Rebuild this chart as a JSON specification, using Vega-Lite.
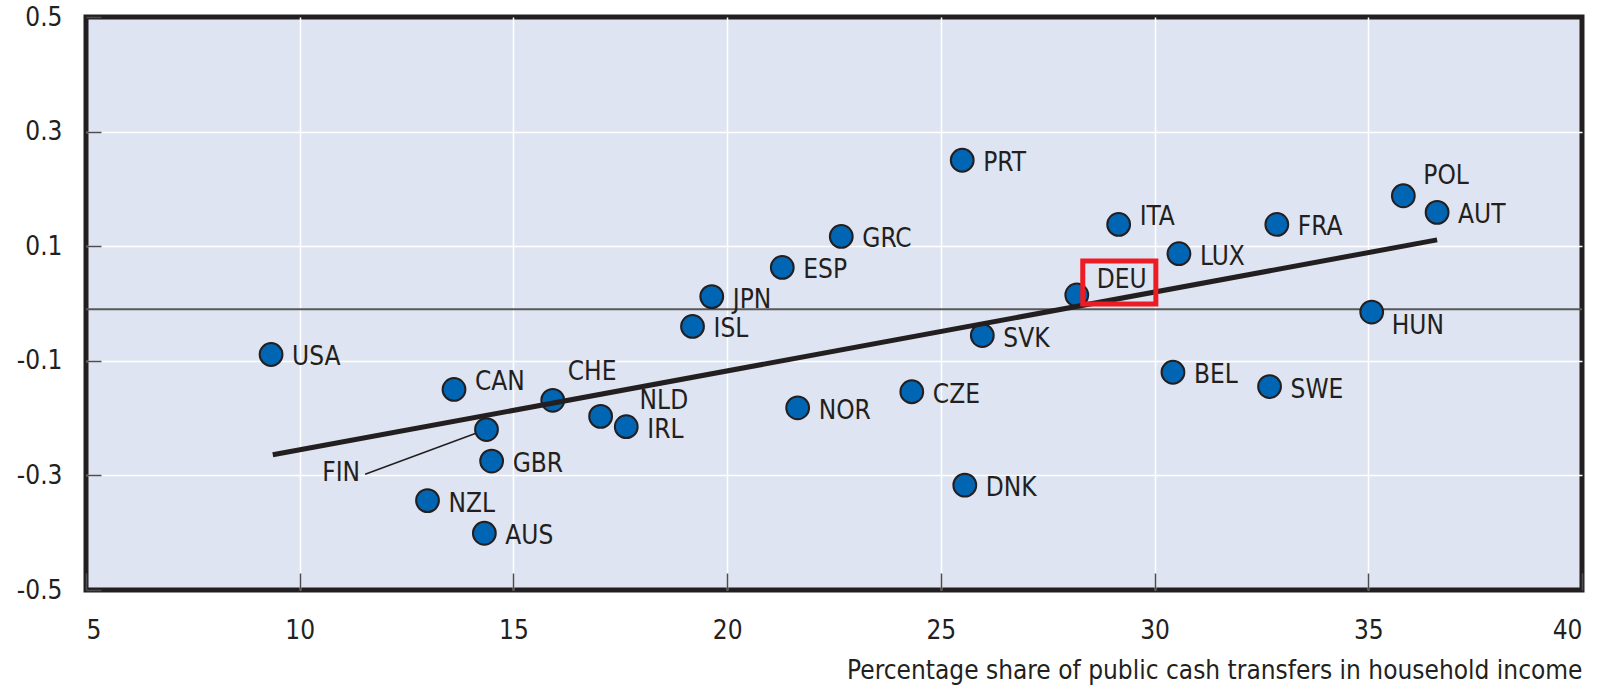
{
  "$schema": "https://vega.github.io/schema/vega-lite/v6.json",
  "width": 1496,
  "height": 573,
  "autosize": {"type": "none"},
  "padding": {"left": 86, "top": 17, "right": 17, "bottom": 95},
  "background": "white",
  "config": {
    "view": {"fill": "#dee4f1", "stroke": "#231f20", "strokeWidth": 5},
    "font": "Liberation Sans Narrow, Arial Narrow, DejaVu Sans Condensed, sans-serif",
    "text": {"font": "Liberation Sans Narrow, Arial Narrow, DejaVu Sans Condensed, sans-serif"}
  },
  "datasets": {
    "pts": [
      {"c": "USA", "x": 9.33, "y": -0.089},
      {"c": "CAN", "x": 13.61, "y": -0.150},
      {"c": "FIN", "x": 14.37, "y": -0.220},
      {"c": "GBR", "x": 14.49, "y": -0.275},
      {"c": "NZL", "x": 12.99, "y": -0.344},
      {"c": "AUS", "x": 14.32, "y": -0.401},
      {"c": "CHE", "x": 15.92, "y": -0.169},
      {"c": "NLD", "x": 17.04, "y": -0.197},
      {"c": "IRL", "x": 17.64, "y": -0.215},
      {"c": "ISL", "x": 19.19, "y": -0.040},
      {"c": "JPN", "x": 19.64, "y": 0.012},
      {"c": "ESP", "x": 21.29, "y": 0.063},
      {"c": "GRC", "x": 22.67, "y": 0.117},
      {"c": "NOR", "x": 21.65, "y": -0.182},
      {"c": "CZE", "x": 24.32, "y": -0.154},
      {"c": "PRT", "x": 25.50, "y": 0.250},
      {"c": "SVK", "x": 25.97, "y": -0.056},
      {"c": "DNK", "x": 25.56, "y": -0.317},
      {"c": "DEU", "x": 28.18, "y": 0.015},
      {"c": "ITA", "x": 29.16, "y": 0.138},
      {"c": "LUX", "x": 30.57, "y": 0.087},
      {"c": "BEL", "x": 30.43, "y": -0.120},
      {"c": "FRA", "x": 32.86, "y": 0.138},
      {"c": "SWE", "x": 32.69, "y": -0.145},
      {"c": "HUN", "x": 35.08, "y": -0.015},
      {"c": "POL", "x": 35.82, "y": 0.188},
      {"c": "AUT", "x": 36.61, "y": 0.159}
    ],
    "fit": [
      {"x": 9.37, "y": -0.264},
      {"x": 36.61, "y": 0.111}
    ],
    "fin": [
      {"c": "FIN", "x": 11.53, "y": -0.298, "x2": 14.36, "y2": -0.220}
    ],
    "zero": [
      {"x": 5, "x2": 40, "y": -0.01}
    ],
    "box": [
      {"x": 28.32, "x2": 30.03, "y": 0.074, "y2": -0.001}
    ]
  },
  "encoding": {
    "x": {
      "field": "x",
      "type": "quantitative",
      "scale": {"domain": [5, 40], "nice": false, "zero": false},
      "axis": {
        "values": [5, 10, 15, 20, 25, 30, 35, 40],
        "domain": false,
        "grid": true,
        "gridColor": {"condition": {"test": "datum.value == 5 || datum.value == 40", "value": "transparent"}, "value": "#ffffff"},
        "gridWidth": 1.5,
        "gridOpacity": 1,
        "tickSize": -17,
        "tickColor": "#4d4d4f",
        "tickWidth": 1.5,
        "labelFlush": true,
        "labelFontSize": 26,
        "labelColor": "#231f20",
        "labelPadding": 44,
        "title": "Percentage share of public cash transfers in household income",
        "titleFontSize": 26,
        "titleFontWeight": "normal",
        "titleColor": "#231f20",
        "titleAnchor": "end",
        "titleAlign": "right",
        "titleBaseline": "alphabetic",
        "titleX": 1496,
        "titleY": 88
      }
    },
    "y": {
      "field": "y",
      "type": "quantitative",
      "scale": {"domain": [-0.5, 0.5], "nice": false, "zero": false},
      "axis": {
        "values": [-0.5, -0.3, -0.1, 0.1, 0.3, 0.5],
        "labelExpr": "(datum.value < 0 ? '-' : '') + format(abs(datum.value), '.1f')",
        "domain": false,
        "grid": true,
        "gridColor": {"condition": {"test": "abs(datum.value) > 0.45", "value": "transparent"}, "value": "#ffffff"},
        "gridWidth": 1.5,
        "gridOpacity": 1,
        "tickSize": -15,
        "tickColor": "#4d4d4f",
        "tickWidth": 1.5,
        "labelFontSize": 26,
        "labelColor": "#231f20",
        "labelPadding": 39,
        "title": null
      }
    }
  },
  "layer": [
    {
      "data": {"name": "zero"},
      "mark": {"type": "rule", "color": "#58585a", "strokeWidth": 2},
      "encoding": {"x2": {"field": "x2"}}
    },
    {
      "data": {"name": "fin"},
      "mark": {"type": "rule", "color": "#231f20", "strokeWidth": 1.5},
      "encoding": {"x2": {"field": "x2"}, "y2": {"field": "y2"}}
    },
    {
      "data": {"name": "pts"},
      "mark": {"type": "circle", "size": 520, "fill": "#0066b3", "stroke": "#231f20", "strokeWidth": 2, "opacity": 1, "fillOpacity": 1}
    },
    {
      "data": {"name": "fit"},
      "mark": {"type": "line", "color": "#231f20", "strokeWidth": 5}
    },
    {
      "data": {"name": "pts"},
      "transform": [{"filter": {"field": "c", "oneOf": ["USA", "GBR", "NZL", "AUS", "IRL", "ISL", "JPN", "ESP", "GRC", "NOR", "CZE", "PRT", "SVK", "DNK", "LUX", "BEL", "FRA", "SWE", "AUT"]}}],
      "mark": {"type": "text", "align": "left", "baseline": "middle", "dx": 21, "dy": 3, "fontSize": 26, "color": "#231f20"},
      "encoding": {"text": {"field": "c"}}
    },
    {
      "data": {"name": "pts"},
      "transform": [{"filter": {"field": "c", "oneOf": ["CAN", "ITA"]}}],
      "mark": {"type": "text", "align": "left", "baseline": "middle", "dx": 21, "dy": -7, "fontSize": 26, "color": "#231f20"},
      "encoding": {"text": {"field": "c"}}
    },
    {
      "data": {"name": "pts"},
      "transform": [{"filter": {"field": "c", "oneOf": ["DEU"]}}],
      "mark": {"type": "text", "align": "left", "baseline": "middle", "dx": 20, "dy": -15, "fontSize": 26, "color": "#231f20"},
      "encoding": {"text": {"field": "c"}}
    },
    {
      "data": {"name": "pts"},
      "transform": [{"filter": {"field": "c", "oneOf": ["POL"]}}],
      "mark": {"type": "text", "align": "left", "baseline": "middle", "dx": 20, "dy": -20, "fontSize": 26, "color": "#231f20"},
      "encoding": {"text": {"field": "c"}}
    },
    {
      "data": {"name": "pts"},
      "transform": [{"filter": {"field": "c", "oneOf": ["NLD"]}}],
      "mark": {"type": "text", "align": "left", "baseline": "middle", "dx": 39, "dy": -15, "fontSize": 26, "color": "#231f20"},
      "encoding": {"text": {"field": "c"}}
    },
    {
      "data": {"name": "pts"},
      "transform": [{"filter": {"field": "c", "oneOf": ["CHE"]}}],
      "mark": {"type": "text", "align": "left", "baseline": "middle", "dx": 15, "dy": -28, "fontSize": 26, "color": "#231f20"},
      "encoding": {"text": {"field": "c"}}
    },
    {
      "data": {"name": "pts"},
      "transform": [{"filter": {"field": "c", "oneOf": ["HUN"]}}],
      "mark": {"type": "text", "align": "left", "baseline": "middle", "dx": 20, "dy": 14, "fontSize": 26, "color": "#231f20"},
      "encoding": {"text": {"field": "c"}}
    },
    {
      "data": {"name": "fin"},
      "mark": {"type": "text", "align": "right", "baseline": "middle", "dx": -5, "dy": -1, "fontSize": 26, "color": "#231f20"},
      "encoding": {"text": {"field": "c"}}
    },
    {
      "data": {"name": "box"},
      "mark": {"type": "rect", "fill": "transparent", "stroke": "#ed1c24", "strokeWidth": 5},
      "encoding": {"x2": {"field": "x2"}, "y2": {"field": "y2"}}
    }
  ]
}
